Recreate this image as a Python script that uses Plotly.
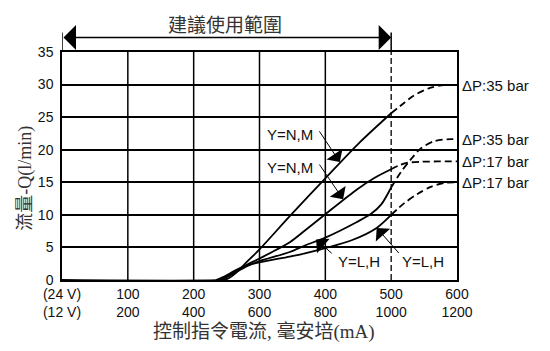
import plotly.graph_objects as go

# ---------------- data ----------------
x_ticks = [0, 100, 200, 300, 400, 500, 600]
labels_24v = ["(24 V)", "100", "200", "300", "400", "500", "600"]
labels_12v = ["(12 V)", "200", "400", "600", "800", "1000", "1200"]
y_ticks = [0, 5, 10, 15, 20, 25, 30, 35]

# Y=N,M  dP 35 bar
nm35_solid_x = [0, 240, 252, 262, 280, 300, 346, 400, 453, 500]
nm35_solid_y = [0, 0, 0.2, 0.9, 2.7, 4.7, 9.8, 15.6, 21.2, 25.6]
nm35_dash_x = [500, 520, 534, 559, 580, 600]
nm35_dash_y = [25.6, 27.2, 28.3, 29.5, 29.9, 29.9]

# Y=N,M  dP 17 bar
nm17_solid_x = [236, 250, 265, 282, 300, 346, 369, 400, 448, 475, 500]
nm17_solid_y = [0, 0.5, 1.4, 2.4, 3.3, 5.8, 7.6, 10.1, 13.9, 15.7, 17.0]
nm17_dash_x = [500, 512, 525, 545, 570, 600]
nm17_dash_y = [17.0, 17.6, 18.0, 18.15, 18.2, 18.2]

# Y=L,H  dP 35 bar
lh35_solid_x = [238, 252, 268, 285, 300, 346, 369, 400, 448, 470, 485, 500]
lh35_solid_y = [0, 0.5, 1.4, 2.3, 2.9, 4.3, 5.3, 6.5, 8.9, 10.2, 11.6, 14.2]
lh35_dash_x = [500, 515, 529, 545, 565, 585, 600]
lh35_dash_y = [14.2, 16.6, 18.4, 20.2, 21.3, 21.6, 21.6]

# Y=L,H  dP 17 bar
lh17_solid_x = [234, 248, 262, 280, 300, 346, 369, 400, 440, 478, 500]
lh17_solid_y = [0, 0.6, 1.4, 2.2, 2.7, 3.6, 4.1, 4.9, 6.1, 8.0, 10.0]
lh17_dash_x = [500, 520, 540, 560, 580, 600]
lh17_dash_y = [10.0, 11.8, 13.2, 14.3, 14.9, 15.0]

end_labels = ["ΔP:35 bar", "ΔP:35 bar", "ΔP:17 bar", "ΔP:17 bar"]
end_label_y = [29.9, 21.6, 18.2, 15.0]

callout_texts = ["Y=N,M", "Y=N,M", "Y=L,H", "Y=L,H"]
callout_text_x = [346.5, 346.5, 451.5, 549]
callout_text_y = [22.4, 17.3, 2.85, 2.85]
callout_tail_x = [389.5, 389.5, 412, 513.7]
callout_tail_y = [23.05, 17.95, 3.9, 3.9]
callout_tip_x = [422, 427, 386, 478]
callout_tip_y = [18.1, 12.4, 6.2, 8.0]

range_limit = 500
range_title = "建議使用範圍"
x_title = "控制指令電流, 毫安培(mA)"
y_title = "流量-Q(l/min)"

# ---------------- figure ----------------
fig = go.Figure()
LW = 1.8
for sx, sy, dx, dy in [
    (nm35_solid_x, nm35_solid_y, nm35_dash_x, nm35_dash_y),
    (nm17_solid_x, nm17_solid_y, nm17_dash_x, nm17_dash_y),
    (lh35_solid_x, lh35_solid_y, lh35_dash_x, lh35_dash_y),
    (lh17_solid_x, lh17_solid_y, lh17_dash_x, lh17_dash_y),
]:
    fig.add_trace(go.Scatter(x=sx, y=sy, mode="lines",
                             line=dict(color="black", width=LW, shape="spline", smoothing=0.8),
                             showlegend=False, hoverinfo="skip"))
    fig.add_trace(go.Scatter(x=dx, y=dy, mode="lines",
                             line=dict(color="black", width=LW, shape="spline", smoothing=0.8,
                                       dash="7px,4px"),
                             showlegend=False, hoverinfo="skip"))

# vertical grid lines (500 is dashed)
for xv in x_ticks:
    if xv in (0, 600):
        continue
    if xv == range_limit:
        fig.add_shape(type="line", xref="x", yref="paper", x0=xv, x1=xv, y0=0, y1=1,
                      line=dict(color="black", width=1.3, dash="6px,3px"), layer="below")
    else:
        fig.add_shape(type="line", xref="x", yref="paper", x0=xv, x1=xv, y0=0, y1=1,
                      line=dict(color="black", width=1.5), layer="below")

# range bracket above plot
for xv in (0, range_limit):
    fig.add_shape(type="line", xref="x", yref="paper", x0=xv, x1=xv, y0=1.0, y1=1.085,
                  line=dict(color="black", width=1.5))
fig.add_annotation(x=range_limit, y=1.0635, xref="x", yref="paper",
                   ax=0, ay=0, axref="x", ayref="pixel", text="",
                   showarrow=True, arrowhead=1, startarrowhead=1, arrowside="end+start",
                   arrowsize=3.2, startarrowsize=3.2, arrowwidth=1.3, arrowcolor="black",
                   standoff=0, startstandoff=0)
fig.add_annotation(x=0.4115, y=1.127, xref="paper", yref="paper", text=range_title,
                   showarrow=False, xanchor="center", yanchor="middle",
                   font=dict(family="Noto Sans CJK TC", size=19, color="#333"))

# end labels
for t, yv in zip(end_labels, end_label_y):
    fig.add_annotation(x=600, y=yv, xref="x", yref="y", text=t, showarrow=False,
                       xanchor="left", yanchor="middle", xshift=3,
                       font=dict(family="Liberation Sans", size=15, color="#111"))

# callouts
for t, tx, ty in zip(callout_texts, callout_text_x, callout_text_y):
    fig.add_annotation(x=tx, y=ty, xref="x", yref="y", text=t, showarrow=False,
                       xanchor="center", yanchor="middle",
                       font=dict(family="Liberation Sans", size=15, color="#111"))
for ax_, ay_, x_, y_ in zip(callout_tail_x, callout_tail_y, callout_tip_x, callout_tip_y):
    fig.add_annotation(x=x_, y=y_, ax=ax_, ay=ay_, xref="x", yref="y", axref="x", ayref="y",
                       text="", showarrow=True, arrowhead=1, arrowsize=3.2, arrowwidth=1,
                       arrowcolor="black", standoff=0)

# axis titles
fig.add_annotation(x=0.512, y=-0.2265, xref="paper", yref="paper", text=x_title,
                   showarrow=False, xanchor="center", yanchor="middle",
                   font=dict(family="Liberation Serif, Noto Sans CJK TC", size=19, color="#333"))
fig.add_annotation(x=-0.0912, y=0.448, xref="paper", yref="paper", text=y_title,
                   showarrow=False, textangle=-90, xanchor="center", yanchor="middle",
                   font=dict(family="Liberation Serif, Noto Sans CJK TC", size=18, color="#333"))

fig.update_layout(
    width=550, height=351,
    margin=dict(l=62, r=93, t=52, b=71),
    paper_bgcolor="white", plot_bgcolor="white",
    xaxis=dict(range=[0, 600], tickvals=x_ticks,
               ticktext=[a + "<br>" + b for a, b in zip(labels_24v, labels_12v)],
               showgrid=False, zeroline=False, showline=True, mirror=True,
               linecolor="black", linewidth=1.5, ticks="",
               tickfont=dict(family="Liberation Sans", size=14, color="#111")),
    yaxis=dict(range=[0, 35], tickvals=y_ticks, showgrid=True, gridcolor="black",
               gridwidth=1.5, zeroline=False, showline=True, mirror=True,
               linecolor="black", linewidth=1.5, ticks="", ticklabelstandoff=4,
               tickfont=dict(family="Liberation Sans", size=14, color="#111")),
)

fig.write_html("out.html")
